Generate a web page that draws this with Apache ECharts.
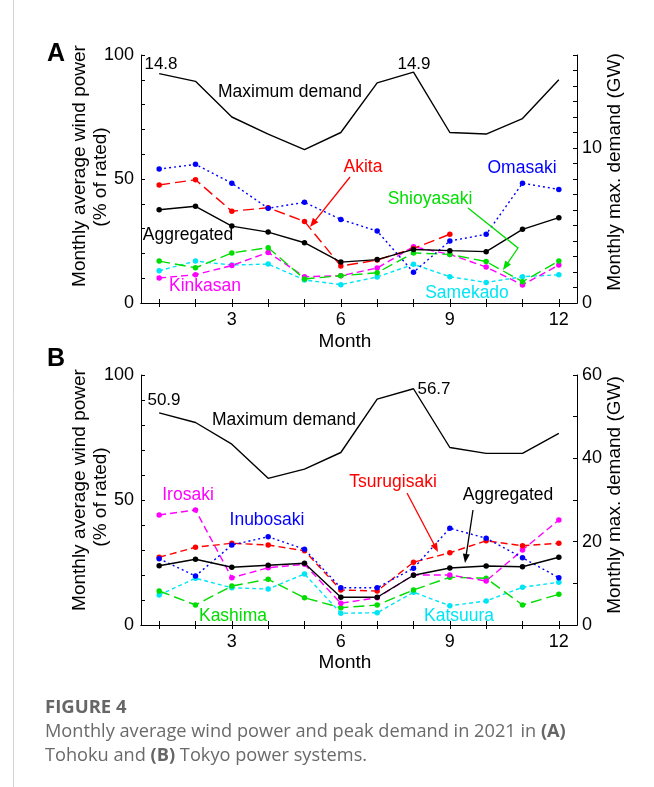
<!DOCTYPE html>
<html><head><meta charset="utf-8">
<script src="https://cdn.jsdelivr.net/npm/echarts@6/dist/echarts.min.js"></script>
<style>html,body{margin:0;padding:0;background:#fff}#c{width:654px;height:787px}</style>
</head><body><div id="c"></div>
<script>
// ---------- data ----------
const months = ['1','2','3','4','5','6','7','8','9','10','11','12'];
// Panel A (Tohoku)
const demandA = [14.8,14.3,12.0,10.9,9.9,11.0,14.2,14.9,11.0,10.9,11.9,14.4];
const omasaki = [54.0,55.9,48.3,38.2,40.6,33.7,29.0,12.4,25.0,27.7,48.3,45.8];
const akita = [47.6,49.7,37.0,38.4,32.9,14.9,17.3,22.0,27.7,null,null,null];
const aggregatedA = [37.6,39.0,31.0,28.6,24.3,16.5,17.5,21.6,21.1,20.7,29.7,34.4];
const shioyasaki = [16.9,14.2,20.2,22.3,9.7,11.0,12.2,20.2,19.6,16.7,8.6,16.9];
const kinkasan = [10.1,11.4,15.1,20.4,10.6,11.0,14.1,22.7,19.6,14.5,7.3,15.3];
const samekado = [13.0,16.9,15.3,15.7,9.3,7.4,10.5,15.6,10.6,8.3,10.6,11.4];
// Panel B (Tokyo)
const demandB = [50.9,48.6,43.4,35.2,37.4,41.4,54.2,56.7,42.6,41.2,41.2,46.0];
const irosaki = [44.0,46.0,18.9,22.9,24.3,8.7,10.9,20.0,20.0,17.6,30.0,42.0];
const inubosaki = [26.5,19.6,32.0,35.3,30.3,14.9,14.9,22.7,38.7,34.7,26.9,18.9];
const tsurugisaki = [27.1,31.1,32.7,32.0,29.7,14.0,13.6,25.1,28.9,33.7,31.7,32.7];
const aggregatedB = [23.7,26.3,23.1,23.9,24.7,11.1,11.1,19.9,22.8,23.6,23.3,27.1];
const kashima = [13.6,8.0,15.6,18.3,10.9,6.9,8.0,14.0,19.1,18.7,8.0,12.3];
const katsuura = [12.0,18.7,14.9,14.4,20.4,4.7,4.9,13.1,7.7,9.6,15.1,17.1];

// ---------- styles ----------
const FONT = '"Liberation Sans", Arial, sans-serif';
const CAP = '"Open Sans", sans-serif';
const C = {blue:'#0000ff', red:'#ff0000', green:'#00dd00', magenta:'#ff00ff', cyan:'#00e5f5', black:'#000000'};

function xAx(gi, pos, labels){
  return {type:'category', data:months, gridIndex:gi, position:pos, boundaryGap:true,
    axisLine:{show:true, lineStyle:{color:'#000', width:1}},
    axisTick:{show:true, inside:true, alignWithLabel:true, interval:0, length:4, lineStyle:{color:'#000'}},
    axisLabel:{show:labels, interval:(i)=>((i+1)%3===0), color:'#000', fontSize:18, fontFamily:FONT, margin:8},
    splitLine:{show:false}};
}
function yAx(gi, pos, max, interval, labelEvery){
  return {type:'value', gridIndex:gi, position:pos, min:0, max:max, interval:interval,
    axisLine:{show:true, onZero:false, lineStyle:{color:'#000', width:1}},
    axisTick:{show:true, inside:true, length:4, lineStyle:{color:'#000'}},
    axisLabel:{color:'#000', fontSize:18, fontFamily:FONT, margin:pos==='left'?7:5,
      formatter:(v)=> (Math.abs(v % labelEvery) < 1e-9 ? String(v) : '')},
    splitLine:{show:false}};
}
function ser(data, color, dash, xi, yi, sym){
  return {type:'line', data:data, xAxisIndex:xi, yAxisIndex:yi,
    symbol: sym===false?'none':'circle', symbolSize:5.5, showSymbol: sym!==false,
    lineStyle:{color:color, width:1.4, type:dash},
    itemStyle:{color:color}, connectNulls:false, emphasis:{disabled:true}, z: 3};
}

// ---------- annotations ----------
function txt(x, y, s, color, size, opts){
  opts = opts || {};
  return {type:'text', x:x, y:y, rotation:opts.rot||0, z:10,
    style:{text:s, x:0, y:0, fill:color, font:(opts.weight||'normal')+' '+size+'px '+(opts.family||FONT),
      textAlign:opts.align||'center', textVerticalAlign:'middle', align:opts.align||'center', verticalAlign:'middle',
      rich:opts.rich}};
}
function arrow(pts, color){
  const n = pts.length, p1 = pts[n-2], p2 = pts[n-1];
  const dx = p2[0]-p1[0], dy = p2[1]-p1[1], L = Math.hypot(dx,dy);
  const ux = dx/L, uy = dy/L, hl = 9, hw = 3.5;
  const bx = p2[0]-ux*hl, by = p2[1]-uy*hl;
  const linePts = pts.slice(0, n-1).concat([[bx+ux*2, by+uy*2]]);
  return [
    {type:'polyline', z:10, shape:{points:linePts}, style:{stroke:color, lineWidth:1.3, fill:null}},
    {type:'polygon', z:10, shape:{points:[p2,[bx-uy*hw, by+ux*hw],[bx+uy*hw, by-ux*hw]]}, style:{fill:color}}
  ];
}

const graphics = [
  {type:'line', shape:{x1:13.5,y1:0,x2:13.5,y2:787}, style:{stroke:'#d4d4d4', lineWidth:1}},
  txt(56, 54, 'A', '#000', 25, {weight:'bold'}),
  txt(56, 359, 'B', '#000', 25, {weight:'bold'}),
  // axis titles A
  txt(80, 166, 'Monthly average wind power', '#000', 19, {rot:Math.PI/2}),
  txt(101, 177, '(% of rated)', '#000', 19, {rot:Math.PI/2}),
  txt(615, 172, 'Monthly max. demand (GW)', '#000', 19, {rot:Math.PI/2}),
  txt(345, 342, 'Month', '#000', 19),
  // axis titles B
  txt(80, 490, 'Monthly average wind power', '#000', 19, {rot:Math.PI/2}),
  txt(101, 497, '(% of rated)', '#000', 19, {rot:Math.PI/2}),
  txt(615, 495, 'Monthly max. demand (GW)', '#000', 19, {rot:Math.PI/2}),
  txt(345, 663, 'Month', '#000', 19),
  // panel A labels
  txt(161, 64, '14.8', '#000', 17),
  txt(414, 64, '14.9', '#000', 17),
  txt(290, 92, 'Maximum demand', '#000', 17.5),
  txt(363, 167, 'Akita', C.red, 17.5),
  txt(522, 168, 'Omasaki', C.blue, 17.5),
  txt(430, 199, 'Shioyasaki', C.green, 17.5),
  txt(188, 235, 'Aggregated', '#000', 17.5),
  txt(205, 286, 'Kinkasan', C.magenta, 17.5),
  txt(467, 293, 'Samekado', C.cyan, 17.5),
  // panel B labels
  txt(164, 400, '50.9', '#000', 17),
  txt(434, 389, '56.7', '#000', 17),
  txt(284, 420, 'Maximum demand', '#000', 17.5),
  txt(188, 495, 'Irosaki', C.magenta, 17.5),
  txt(267, 520, 'Inubosaki', C.blue, 17.5),
  txt(393, 482, 'Tsurugisaki', C.red, 17.5),
  txt(508, 495, 'Aggregated', '#000', 17.5),
  txt(233, 616, 'Kashima', C.green, 17.5),
  txt(459, 616, 'Katsuura', C.cyan, 17.5),
  // caption
  txt(45, 708, 'FIGURE 4', '#666', 18.5, {align:'left', weight:'bold', family:CAP}),
  txt(45, 732, 'Monthly average wind power and peak demand in 2021 in {b|(A)}', '#6a6a6a', 18.2,
      {align:'left', family:CAP, rich:{b:{font:'bold 18.2px '+CAP, fill:'#666'}}}),
  txt(45, 756, 'Tohoku and {b|(B)} Tokyo power systems.', '#6a6a6a', 18.2,
      {align:'left', family:CAP, rich:{b:{font:'bold 18.2px '+CAP, fill:'#666'}}})
]
.concat(arrow([[350,177],[310,227]], C.red))
.concat(arrow([[468,208],[518,248],[503,270]], C.green))
.concat(arrow([[407,493],[438,552]], C.red))
.concat(arrow([[473,510],[465,563]], '#000'));

const option = {
  animation:false,
  backgroundColor:'#fff',
  grid:[{left:141, right:77, top:55, height:248}, {left:141, right:77, top:375, height:250}],
  xAxis:[xAx(0,'bottom',true), xAx(0,'top',false), xAx(1,'bottom',true), xAx(1,'top',false)],
  yAxis:[yAx(0,'left',100,10,50), yAx(0,'right',16,1,10), yAx(1,'left',100,10,50), yAx(1,'right',60,10,20)],
  series:[
    ser(demandA, '#000', 'solid', 0, 1, false),
    ser(samekado, C.cyan, [4,3], 0, 0),
    ser(kinkasan, C.magenta, [7,4], 0, 0),
    ser(shioyasaki, C.green, [11,5], 0, 0),
    ser(akita, C.red, [11,5], 0, 0),
    ser(omasaki, C.blue, [2,3], 0, 0),
    ser(aggregatedA, '#000', 'solid', 0, 0),
    ser(demandB, '#000', 'solid', 2, 3, false),
    ser(katsuura, C.cyan, [4,3], 2, 2),
    ser(kashima, C.green, [11,5], 2, 2),
    ser(irosaki, C.magenta, [7,4], 2, 2),
    ser(tsurugisaki, C.red, [7,4], 2, 2),
    ser(inubosaki, C.blue, [2,3], 2, 2),
    ser(aggregatedB, '#000', 'solid', 2, 2)
  ],
  graphic:{elements:graphics}
};
const chart = echarts.init(document.getElementById('c'), null, {renderer:'canvas'});
chart.setOption(option);
</script></body></html>
